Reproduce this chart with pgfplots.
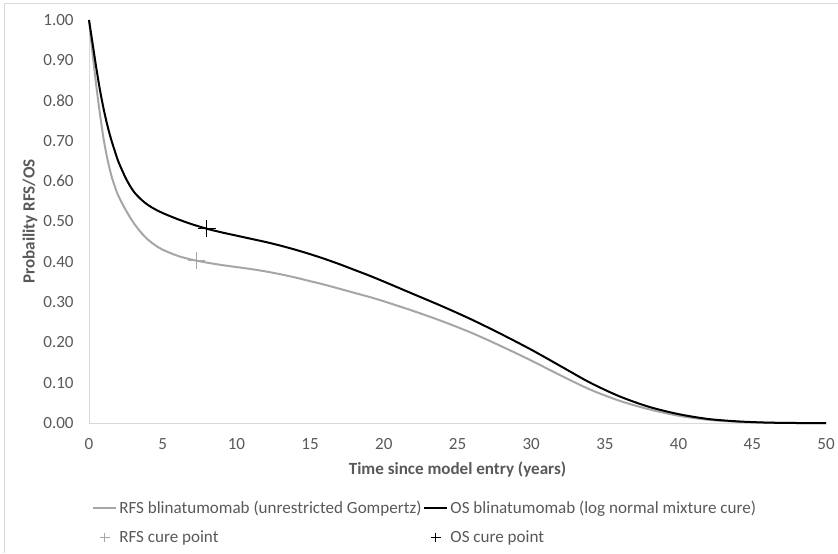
\documentclass[border=0pt]{standalone}
\usepackage{pgfplots}
\pgfplotsset{compat=1.18}
\usepackage{fontspec}
\setmainfont{Carlito}
\definecolor{txt}{HTML}{595959}
\definecolor{axl}{HTML}{D9D9D9}
\definecolor{rfs}{HTML}{A6A6A6}
\begin{document}
\begin{tikzpicture}[x=1pt,y=1pt]
\path[use as bounding box] (0,0) rectangle (628.5,414.75);
\draw[axl,line width=0.75pt] (3,0) -- (3,411.75) -- (628.5,411.75);
\begin{axis}[
  at={(66.75pt,97.5pt)}, anchor=south west,
  scale only axis, width=552.75pt, height=302.25pt,
  xmin=0, xmax=50, ymin=0, ymax=1,
  axis x line*=bottom, axis y line*=left,
  axis line style={axl, line width=0.75pt, -},
  xtick={0,5,...,50}, ytick={0,0.1,...,1.0},
  major tick length=0pt,
  tick style={draw=none},
  /pgf/number format/assume math mode=true,
  yticklabel={\pgfmathprintnumber[fixed,fixed zerofill,precision=2]{\tick}},
  ticklabel style={font=\fontsize{12.8}{14}\selectfont, text=txt},
  yticklabel style={xshift=-8pt},
  xticklabel style={yshift=-8pt},
  xlabel={Time since model entry (years)},
  ylabel={Probaility RFS/OS},
  label style={font=\fontsize{12.8}{14}\selectfont\bfseries, text=txt},
  xlabel style={at={(axis description cs:0.5,-0.1166)}, anchor=center},
  ylabel style={at={(axis description cs:-0.0801,0.5)}, anchor=center},
  legend columns=2,
  legend cell align=left,
  legend style={at={(axis description cs:0.0041,-0.186)}, anchor=north west,
    draw=none, fill=none, inner sep=0pt,
    font=\fontsize{12.8}{14}\selectfont, text=txt,
    nodes={inner xsep=1.5pt, inner ysep=2pt},
    row sep=7.5pt, column sep=0pt},
  legend image code/.code={\draw[mark repeat=2,mark phase=2,#1,mark size=3.6pt] plot coordinates {(0pt,0pt) (8.6pt,0pt) (17.25pt,0pt)};},
  clip=false,
]
\addplot[rfs, line width=1.5pt, smooth, tension=0.5] coordinates {
(0,1.000) (0.25,0.915) (0.5,0.835) (0.75,0.765) (1,0.703) (1.25,0.655) (1.5,0.616) (1.75,0.587) (2,0.563) (2.5,0.528) (3,0.498) (3.5,0.474) (4,0.455) (4.5,0.441) (5,0.430) (6,0.415) (7,0.405) (8,0.398) (9,0.392) (10,0.387) (11,0.382) (12,0.376) (13,0.369) (14,0.361) (15,0.352) (16,0.343) (17,0.333) (18,0.323) (19,0.313) (20,0.302) (22,0.278) (24,0.252) (26,0.223) (28,0.190) (30,0.155) (32,0.118) (34,0.083) (36,0.055) (38,0.034) (40,0.018) (42,0.008) (44,0.003) (46,0.001) (48,0.000) (50,0.000)
};
\addlegendentry{RFS blinatumomab (unrestricted Gompertz)}
\addplot[black, line width=1.5pt, smooth, tension=0.5] coordinates {
(0,1.000) (0.25,0.940) (0.5,0.880) (0.75,0.825) (1,0.778) (1.25,0.738) (1.5,0.704) (1.75,0.675) (2,0.648) (2.5,0.607) (3,0.576) (3.5,0.556) (4,0.541) (4.5,0.530) (5,0.521) (6,0.506) (7,0.493) (8,0.482) (9,0.473) (10,0.465) (11,0.457) (12,0.449) (13,0.440) (14,0.430) (15,0.419) (16,0.407) (17,0.394) (18,0.380) (19,0.366) (20,0.351) (22,0.320) (24,0.289) (26,0.256) (28,0.220) (30,0.182) (32,0.141) (34,0.100) (36,0.066) (38,0.040) (40,0.022) (42,0.010) (44,0.004) (46,0.001) (48,0.000) (50,0.000)
};
\addlegendentry{OS blinatumomab (log normal mixture cure)}
\addplot[rfs, only marks, mark=+, mark size=6.5pt, mark options={line width=0.75pt}] coordinates {(7.3,0.403)};
\addlegendentry{RFS cure point}
\addplot[black, only marks, mark=+, mark size=6.5pt, mark options={line width=0.75pt}] coordinates {(8.0,0.482)};
\addlegendentry{OS cure point}
\end{axis}
\end{tikzpicture}
\end{document}
